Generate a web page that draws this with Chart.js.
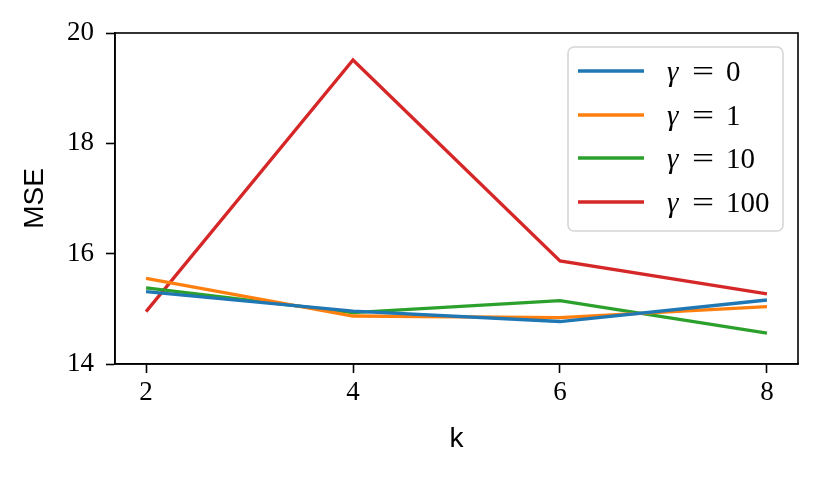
<!DOCTYPE html>
<html>
<head>
<meta charset="utf-8">
<script src="https://cdn.jsdelivr.net/npm/chart.js@4"></script>
<style>
  html, body { margin: 0; padding: 0; background: #ffffff; }
  #wrap { width: 831px; height: 478px; }
</style>
</head>
<body>
<div id="wrap"><canvas id="c" width="831" height="478"></canvas></div>
<script>
const kValues = [2, 4, 6, 8];
const gammaLabels = ['0', '1', '10', '100'];
const mseGamma0 = [15.31, 14.96, 14.77, 15.16];
const mseGamma1 = [15.55, 14.87, 14.84, 15.04];
const mseGamma10 = [15.38, 14.93, 15.15, 14.56];
const mseGamma100 = [14.95, 19.51, 15.87, 15.27];
const xTickValues = [2, 4, 6, 8];
const yTickValues = [14, 16, 18, 20];
const seriesColors = ['#1f77b4', '#ff7f0e', '#2ca02c', '#d62728'];
const seriesValues = [mseGamma0, mseGamma1, mseGamma10, mseGamma100];

const datasets = seriesValues.map((vals, i) => ({
  label: 'γ = ' + gammaLabels[i],
  gammaValue: gammaLabels[i],
  data: kValues.map((k, j) => ({ x: k, y: vals[j] })),
  borderColor: seriesColors[i],
  backgroundColor: seriesColors[i],
  borderWidth: 3.3,
  pointRadius: 0,
  tension: 0,
  fill: false
}));

const framePlugin = {
  id: 'frame',
  afterDatasetsDraw(chart) {
    const { ctx, chartArea: a } = chart;
    ctx.save();
    ctx.strokeStyle = '#000';
    ctx.lineWidth = 1.6;
    ctx.strokeRect(a.left, a.top, a.right - a.left, a.bottom - a.top);
    ctx.restore();
  }
};

const legendPlugin = {
  id: 'mplLegend',
  afterDraw(chart) {
    const { ctx } = chart;
    const bx = 568, by = 47, bw = 215, bh = 184, r = 6;
    ctx.save();
    ctx.beginPath();
    ctx.moveTo(bx + r, by);
    ctx.arcTo(bx + bw, by, bx + bw, by + bh, r);
    ctx.arcTo(bx + bw, by + bh, bx, by + bh, r);
    ctx.arcTo(bx, by + bh, bx, by, r);
    ctx.arcTo(bx, by, bx + bw, by, r);
    ctx.closePath();
    ctx.fillStyle = 'rgba(255,255,255,0.8)';
    ctx.fill();
    ctx.strokeStyle = '#d6d6d6';
    ctx.lineWidth = 1.6;
    ctx.stroke();
    const rowY = [71, 115, 158, 202];
    chart.data.datasets.forEach((ds, i) => {
      const y = rowY[i];
      ctx.beginPath();
      ctx.moveTo(578, y);
      ctx.lineTo(644, y);
      ctx.strokeStyle = ds.borderColor;
      ctx.lineWidth = 3.3;
      ctx.stroke();
      ctx.fillStyle = '#000';
      ctx.textBaseline = 'alphabetic';
      ctx.textAlign = 'left';
      const base = y + 10;
      ctx.font = 'italic 29px "Liberation Serif", serif';
      ctx.fillText('γ', 667, base);
      ctx.font = '29px "Liberation Serif", serif';
      ctx.save();
      ctx.translate(692, base);
      ctx.scale(1.35, 1);
      ctx.fillText('=', 0, 0);
      ctx.restore();
      ctx.fillText(ds.gammaValue, 726, base);
    });
    ctx.restore();
  }
};

new Chart(document.getElementById('c'), {
  type: 'line',
  data: { datasets },
  options: {
    responsive: false,
    animation: false,
    devicePixelRatio: 1,
    layout: { padding: { left: 0, top: 33, right: 33, bottom: 0 } },
    plugins: { legend: { display: false }, tooltip: { enabled: false } },
    scales: {
      x: {
        type: 'linear',
        min: 1.7,
        max: 8.3,
        afterBuildTicks(axis) { axis.ticks = xTickValues.map(v => ({ value: v })); },
        afterFit(axis) { axis.height = 114; },
        grid: { drawOnChartArea: false, drawTicks: true, tickLength: 9, tickWidth: 1.6, tickColor: '#000' },
        border: { display: true, color: '#000', width: 1.6 },
        ticks: { color: '#000', padding: 4, font: { family: '"Liberation Serif", serif', size: 27 }, maxRotation: 0 },
        title: { display: true, text: 'k', color: '#000', font: { family: '"Liberation Sans", sans-serif', size: 28 }, padding: { top: 0, bottom: 22 } }
      },
      y: {
        type: 'linear',
        min: 14,
        max: 20,
        afterBuildTicks(axis) { axis.ticks = yTickValues.map(v => ({ value: v })); },
        afterFit(axis) { axis.width = 115; },
        grid: { drawOnChartArea: false, drawTicks: true, tickLength: 9, tickWidth: 1.6, tickColor: '#000' },
        border: { display: true, color: '#000', width: 1.6 },
        ticks: { color: '#000', padding: 12, font: { family: '"Liberation Serif", serif', size: 27 } },
        title: { display: true, text: 'MSE', color: '#000', font: { family: '"Liberation Sans", sans-serif', size: 28 }, padding: { top: 18, bottom: 0 } }
      }
    }
  },
  plugins: [framePlugin, legendPlugin]
});
</script>
</body>
</html>
